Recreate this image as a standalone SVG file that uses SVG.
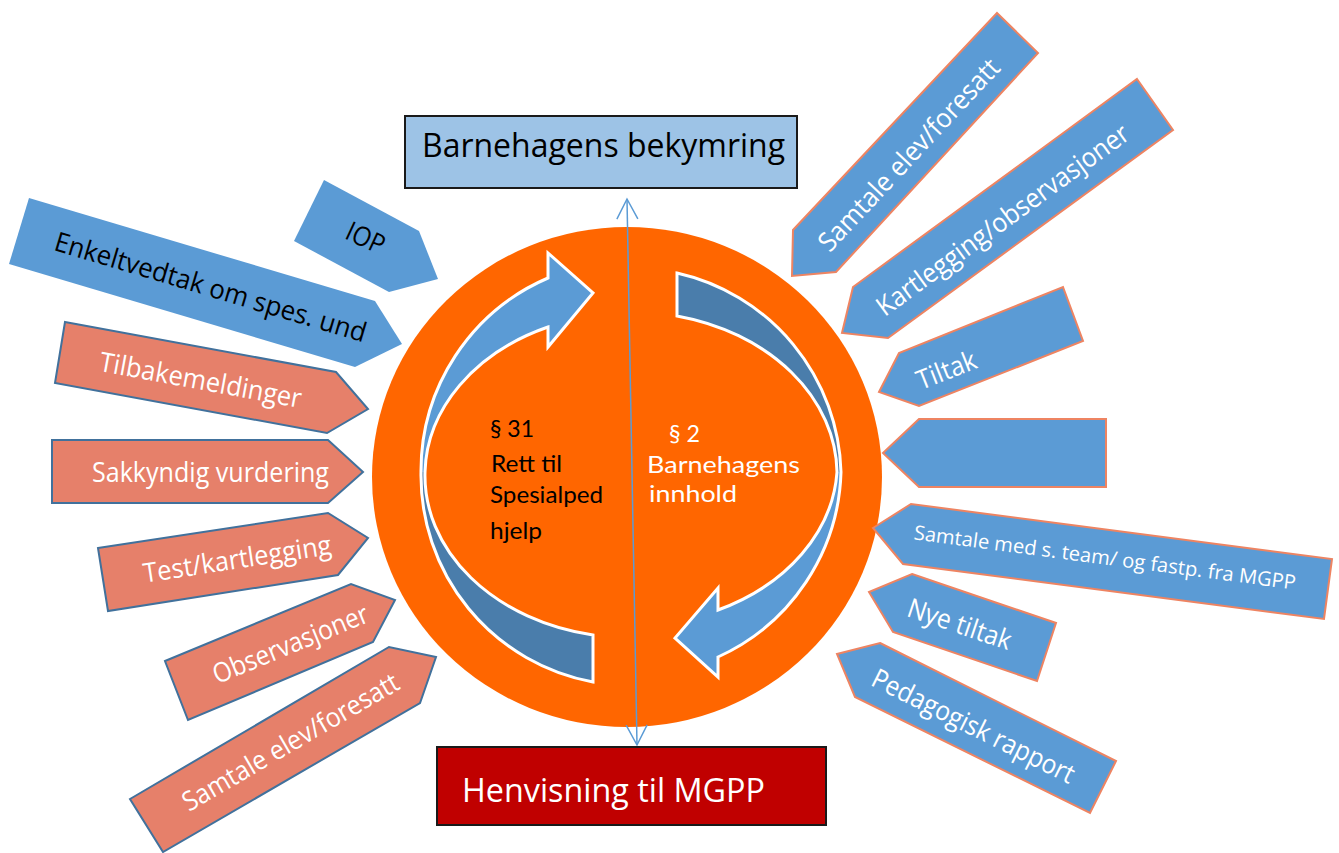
<svg xmlns="http://www.w3.org/2000/svg" width="1339" height="853" viewBox="0 0 1339 853">
<style>
  .t{font-family:"Open Sans","Liberation Sans",sans-serif}
  .c{font-family:Lato,"Open Sans","Liberation Sans",sans-serif}
  .lab{font-size:27px;text-anchor:middle;dominant-baseline:central}
  .w{fill:#ffffff}
  .k{fill:#000000}
  .sal{fill:#e6806a;stroke:#41719c;stroke-width:2;stroke-linejoin:miter}
  .blu{fill:#5b9bd5;stroke:none}
  .bluo{fill:#5b9bd5;stroke:#ee8462;stroke-width:2;stroke-linejoin:miter}
  .lite{fill:#5b9bd5}
  .dark{fill:#4a7dab}
  .rim{fill:none;stroke:#ffffff;stroke-width:3;stroke-linejoin:miter}
</style>
<defs>
  <marker id="vhead" markerUnits="userSpaceOnUse" viewBox="-22 -12 24 24" markerWidth="24" markerHeight="24" refX="0" refY="0" orient="auto-start-reverse">
    <path d="M-20,-10.5 L0,0 L-20,10.5" fill="none" stroke="#5b9bd5" stroke-width="1.5"/>
  </marker>
</defs>
<rect width="1339" height="853" fill="#ffffff"/>

<g id="circle">
  <ellipse cx="627" cy="477" rx="255" ry="250" fill="#ff6600"/>
</g>

<g id="cycle-left">
  <path class="lite" d="M421,472 A210,210 0 0 1 548,278 L548,253 L593,293 L548,347 L548,327 A206,162 0 0 0 425,472 Z"/>
  <path class="dark" d="M421,472 L425,472 A206,162 0 0 0 593,635 L593,682 A210,210 0 0 1 421,472 Z"/>
  <path class="rim" d="M593,682 A210,210 0 0 1 421,472 A210,210 0 0 1 548,278 L548,253 L593,293 L548,347 L548,327 A206,162 0 0 0 425,472 A206,162 0 0 0 593,635 Z"/>
</g>
<g id="cycle-right">
  <path class="dark" d="M677,273 A210,210 0 0 1 841,472 L837,472 A206,162 0 0 0 677,316 Z"/>
  <path class="lite" d="M841,472 A210,210 0 0 1 718,657 L718,677 L675,638 L718,588 L718,610 A206,162 0 0 0 837,472 Z"/>
  <path class="rim" d="M677,273 A210,210 0 0 1 841,472 A210,210 0 0 1 718,657 L718,677 L675,638 L718,588 L718,610 A206,162 0 0 0 837,472 A206,162 0 0 0 677,316 Z"/>
</g>

<g id="text-left">
  <text class="c k" font-size="24">
    <tspan x="490" y="437" textLength="44" lengthAdjust="spacingAndGlyphs">§ 31</tspan>
    <tspan x="491" y="472" textLength="71" lengthAdjust="spacingAndGlyphs">Rett til</tspan>
    <tspan x="490" y="503" textLength="113" lengthAdjust="spacingAndGlyphs">Spesialped</tspan>
    <tspan x="490" y="539" textLength="52" lengthAdjust="spacingAndGlyphs">hjelp</tspan>
  </text>
</g>
<g id="text-right">
  <text class="c w" font-size="24">
    <tspan x="669" y="442" textLength="31" lengthAdjust="spacingAndGlyphs">§ 2</tspan>
    <tspan x="647" y="473" textLength="153" lengthAdjust="spacingAndGlyphs">Barnehagens</tspan>
    <tspan x="649" y="502" textLength="88" lengthAdjust="spacingAndGlyphs">innhold</tspan>
  </text>
</g>

<g id="connectors">
  <line x1="627" y1="199" x2="637" y2="745" stroke="#5b9bd5" stroke-width="1.5" marker-start="url(#vhead)" marker-end="url(#vhead)"/>
</g>

<g id="box-top">
  <rect x="405" y="116" width="392" height="72" fill="#9dc3e6" stroke="#1a1a1a" stroke-width="2"/>
  <text class="t k" x="422" y="157" font-size="32" textLength="363" lengthAdjust="spacingAndGlyphs">Barnehagens bekymring</text>
</g>
<g id="box-bottom">
  <rect x="437" y="747" width="389" height="78" fill="#c00000" stroke="#1a1a1a" stroke-width="2"/>
  <text class="t w" x="462" y="802" font-size="32" textLength="303" lengthAdjust="spacingAndGlyphs">Henvisning til MGPP</text>
</g>

<g id="arrow-iop">
  <polygon class="blu" points="324,180 419,231 438,279 389,292 294,241"/>
  <text class="t lab k" x="366" y="237" transform="rotate(25 366 237)" textLength="40" lengthAdjust="spacingAndGlyphs">IOP</text>
</g>
<g id="arrow-enkeltvedtak">
  <polygon class="blu" points="29,198 375,301 402,344 355,367 9,264"/>
  <text class="t lab k" x="211" y="286" transform="rotate(16.6 211 286)" textLength="324" lengthAdjust="spacingAndGlyphs">Enkeltvedtak om spes. und</text>
</g>
<g id="arrow-tilbakemeldinger">
  <polygon class="sal" points="65,322 336,372 368,409 327,433 55,383"/>
  <text class="t lab w" x="201" y="379" transform="rotate(10.5 201 379)" textLength="205" lengthAdjust="spacingAndGlyphs">Tilbakemeldinger</text>
</g>
<g id="arrow-sakkyndig">
  <polygon class="sal" points="52,440 328,440 363,472 328,503 52,503"/>
  <text class="t lab w" x="210.5" y="471.5" textLength="237" lengthAdjust="spacingAndGlyphs">Sakkyndig vurdering</text>
</g>
<g id="arrow-test">
  <polygon class="sal" points="98,548 328,513 368,538 338,575 108,611"/>
  <text class="t lab w" x="237" y="558" transform="rotate(-8.7 237 558)" textLength="190" lengthAdjust="spacingAndGlyphs">Test/kartlegging</text>
</g>
<g id="arrow-observasjoner">
  <polygon class="sal" points="165,661 351,584 395,600 373,642 188,720"/>
  <text class="t lab w" x="290" y="643" transform="rotate(-22.4 290 643)" textLength="166" lengthAdjust="spacingAndGlyphs">Observasjoner</text>
</g>
<g id="arrow-samtale-left">
  <polygon class="sal" points="130,799 389,647 436,657 420,703 163,852"/>
  <text class="t lab w" x="290" y="741" transform="rotate(-30.3 290 741)" textLength="246" lengthAdjust="spacingAndGlyphs">Samtale elev/foresatt</text>
</g>

<g id="arrow-samtale-right">
  <polygon class="bluo" points="997,13 1038,53 836,272 792,276 793,230"/>
  <text class="t lab w" x="908" y="154" transform="rotate(-47 908 154)" textLength="252" lengthAdjust="spacingAndGlyphs">Samtale elev/foresatt</text>
</g>
<g id="arrow-kartlegging">
  <polygon class="bluo" points="1137,79 1173,130 888,338 842,333 853,287"/>
  <text class="t lab w" x="1002" y="219" transform="rotate(-36 1002 219)" textLength="305" lengthAdjust="spacingAndGlyphs">Kartlegging/observasjoner</text>
</g>
<g id="arrow-tiltak">
  <polygon class="bluo" points="1063,287 1083,341 919,406 879,392 899,353"/>
  <text class="t lab w" x="946" y="369" transform="rotate(-21.5 946 369)" textLength="62" lengthAdjust="spacingAndGlyphs">Tiltak</text>
</g>
<g id="arrow-blank">
  <polygon class="bluo" points="883,453 919,419 1106,419 1106,487 919,487"/>
</g>
<g id="arrow-samtale-team">
  <polygon class="bluo" points="873,528 911,504 1332,559 1324,619 903,564"/>
  <text class="t w" x="1105" y="557" font-size="20" text-anchor="middle" dominant-baseline="central" transform="rotate(7.5 1105 557)" textLength="385" lengthAdjust="spacingAndGlyphs">Samtale med s. team/ og fastp. fra MGPP</text>
</g>
<g id="arrow-nye-tiltak">
  <polygon class="bluo" points="912,574 1056,623 1037,681 893,632 869,592"/>
  <text class="t lab w" x="960" y="623" transform="rotate(18.7 960 623)" textLength="108" lengthAdjust="spacingAndGlyphs">Nye tiltak</text>
</g>
<g id="arrow-pedagogisk">
  <polygon class="bluo" points="880,643 1116,761 1090,813 855,697 837,654"/>
  <text class="t lab w" x="974" y="725" transform="rotate(26.5 974 725)" textLength="223" lengthAdjust="spacingAndGlyphs">Pedagogisk rapport</text>
</g>
</svg>
